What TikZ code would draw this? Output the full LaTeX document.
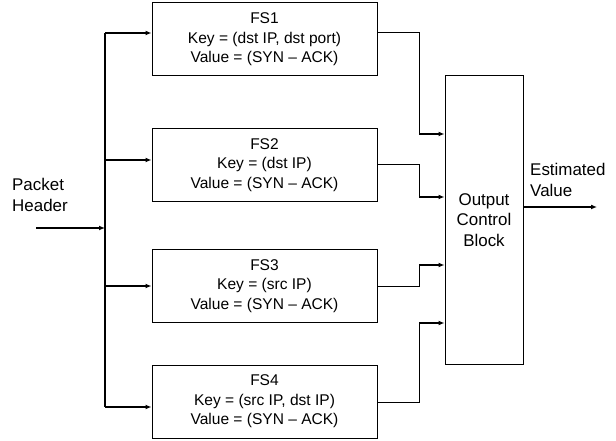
\documentclass[tikz,border=0pt]{standalone}
\usepackage{fontspec}
\setmainfont{Liberation Sans}
\usetikzlibrary{arrows.meta}
\begin{document}
\begin{tikzpicture}[x=1bp,y=-1bp,
  bigfont/.style={font=\fontsize{17}{20.5}\selectfont},
  fsbox/.style={draw,line width=1bp,minimum width=225bp,minimum height=73bp,align=center,inner sep=0pt,font=\fontsize{15.6}{19.5}\selectfont},
  thin/.style={line width=1bp},
  thick arrow/.style={line width=1.6bp,-{Latex[length=6bp,width=5bp]}},
  label/.style={align=left,inner sep=0pt,bigfont}]
\useasboundingbox (0,0) rectangle (616,441);
\node[fsbox] (fs1) at (264.5,39.5) {FS1\\Key = (dst IP, dst port)\\Value = (SYN -- ACK)};
\node[fsbox] (fs2) at (264.5,165) {FS2\\Key = (dst IP)\\Value = (SYN -- ACK)};
\node[fsbox] (fs3) at (264.5,286) {FS3\\Key = (src IP)\\Value = (SYN -- ACK)};
\node[fsbox] (fs4) at (264.5,401.5) {FS4\\Key = (src IP, dst IP)\\Value = (SYN -- ACK)};
\node[draw,line width=1bp,minimum width=78bp,minimum height=288bp,align=center,inner sep=0pt,bigfont] (ocb) at (484,220) {Output\\Control\\Block};
\node[label,anchor=west] (ph) at (12,195) {Packet\\Header};
\node[label,anchor=west] (ev) at (530,180) {Estimated\\Value};
% bus
\coordinate (b1) at (105,33);
\coordinate (b2) at (105,160);
\coordinate (b3) at (105,286);
\coordinate (b4) at (105,407);
\coordinate (bin) at (105,228);
\coordinate (src) at (36,228);
\draw[line width=1.6bp] (b1) -- (b4);
\draw[thick arrow] (src) -- (bin);
\draw[thick arrow] (b1) -- (b1 -| fs1.west);
\draw[thick arrow] (b2) -- (b2 -| fs2.west);
\draw[thick arrow] (b3) -- (b3 -| fs3.west);
\draw[thick arrow] (b4) -- (b4 -| fs4.west);
% outputs
\coordinate (k1) at (419,33);  \coordinate (e1) at (419,134);
\coordinate (k2) at (419,165); \coordinate (e2) at (419,197);
\coordinate (k3) at (419,286); \coordinate (e3) at (419,265);
\coordinate (k4) at (419,402); \coordinate (e4) at (419,323);
\draw[thin] (k1 -| fs1.east) -- (k1) -- (e1);
\draw[thin] (k2 -| fs2.east) -- (k2) -- (e2);
\draw[thin] (k3 -| fs3.east) -- (k3) -- (e3);
\draw[thin] (k4 -| fs4.east) -- (k4) -- (e4);
\draw[thick arrow] (e1) -- (e1 -| ocb.west);
\draw[thick arrow] (e2) -- (e2 -| ocb.west);
\draw[thick arrow] (e3) -- (e3 -| ocb.west);
\draw[thick arrow] (e4) -- (e4 -| ocb.west);
\coordinate (out) at (597,207);
\draw[thick arrow] (out -| ocb.east) -- (out);
\end{tikzpicture}
\end{document}
